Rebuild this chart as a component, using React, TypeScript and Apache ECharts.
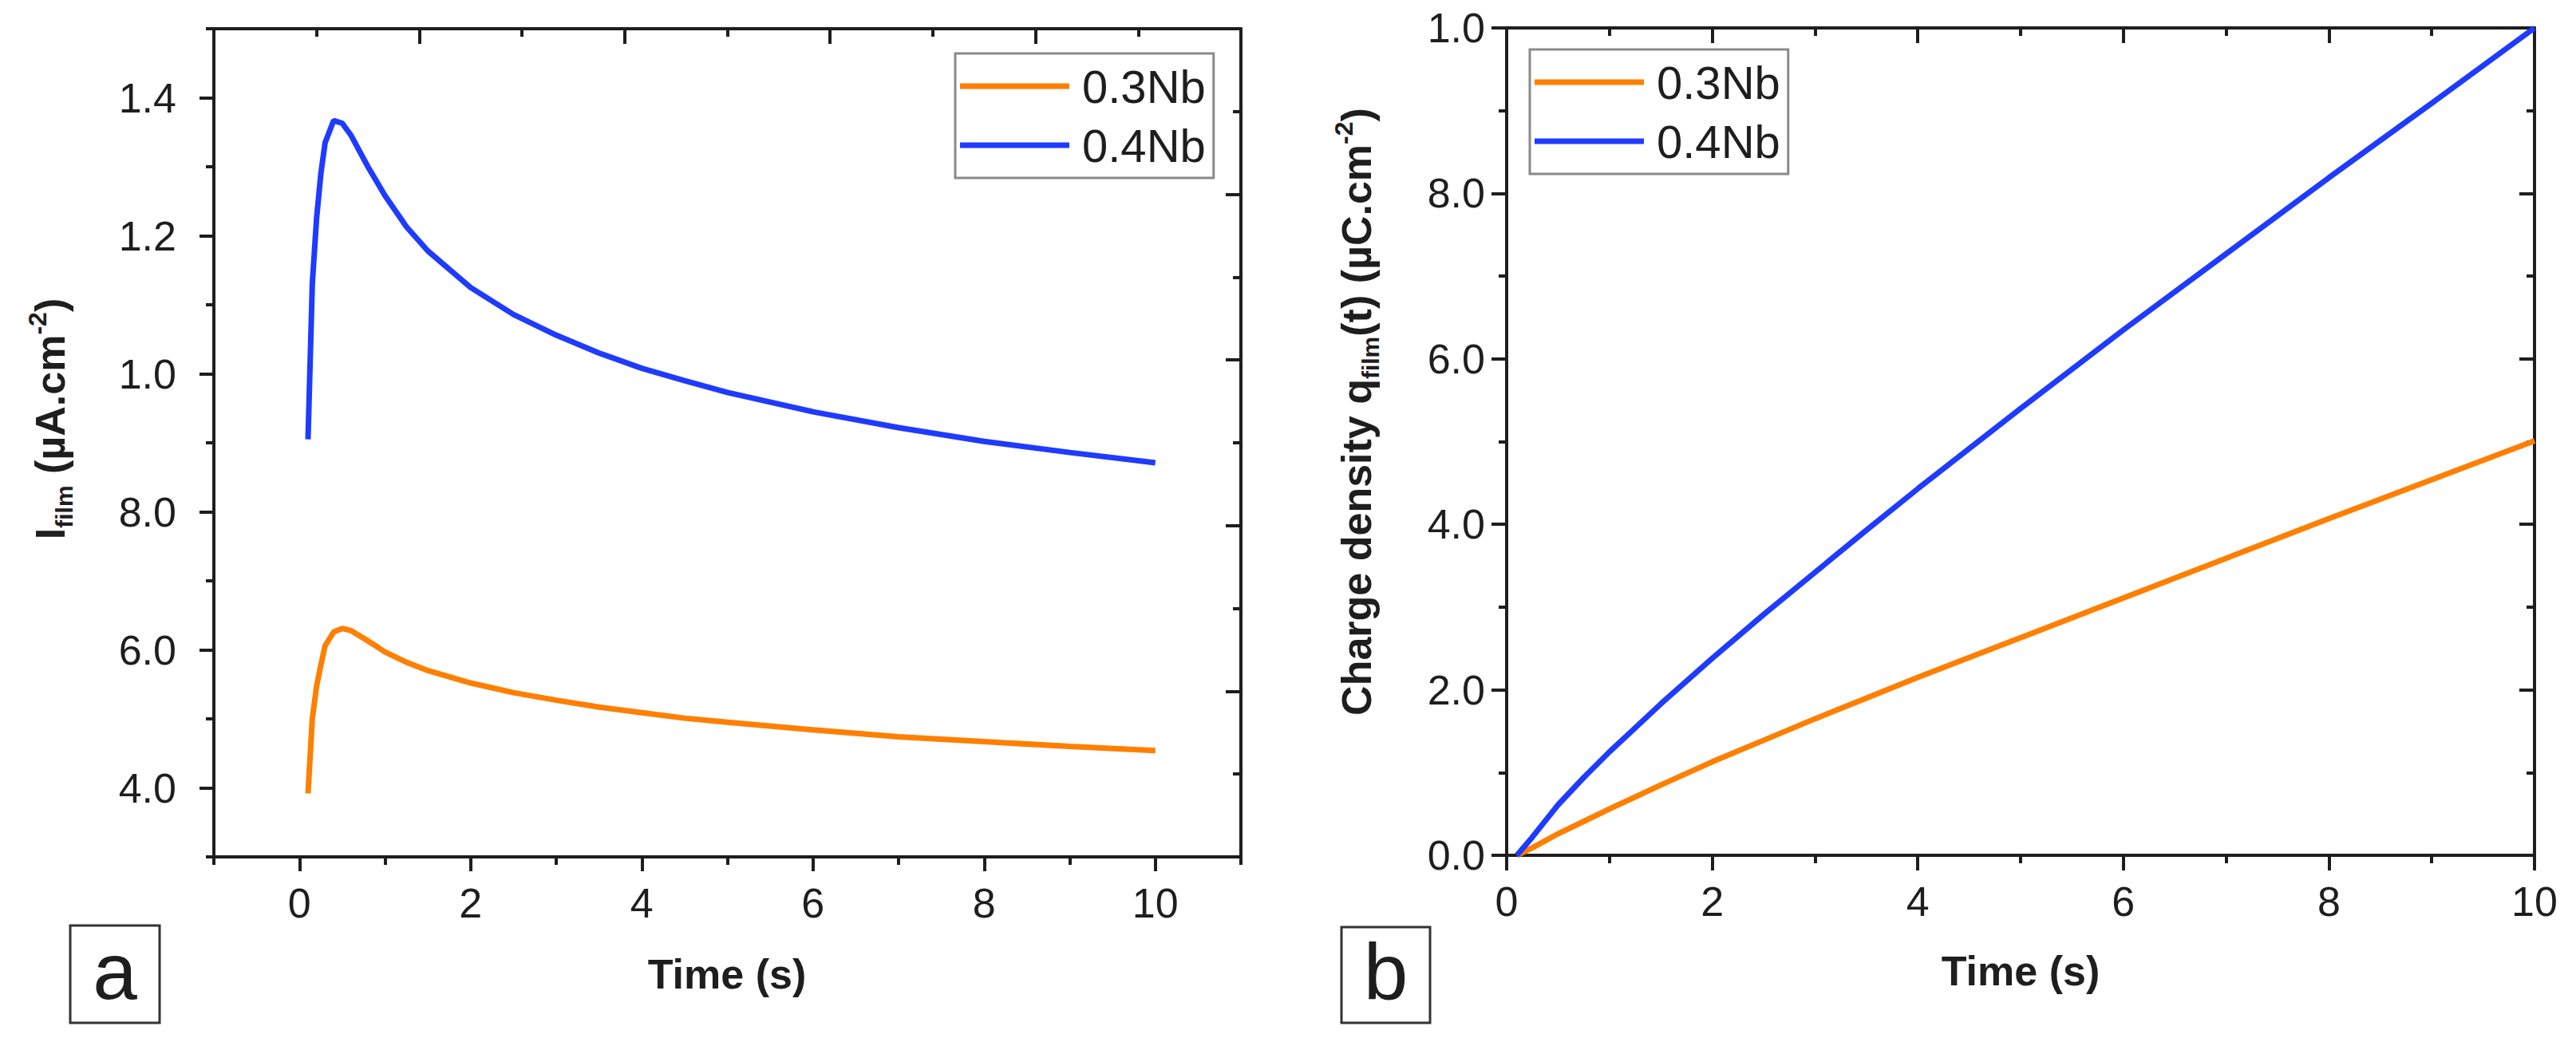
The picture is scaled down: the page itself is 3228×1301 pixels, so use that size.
import { useEffect, useRef } from 'react';
import * as echarts from 'echarts';

// panel a: film current vs time
const timeA = [0.1, 0.15, 0.2, 0.25, 0.3, 0.4, 0.5, 0.6, 0.8, 1.0, 1.25, 1.5, 2.0, 2.5, 3.0, 3.5, 4.0, 4.5, 5.0, 6.0, 7.0, 8.0, 9.0, 10.0];
const currentNb03 = [0.392, 0.5, 0.547, 0.578, 0.606, 0.626, 0.631, 0.628, 0.613, 0.597, 0.582, 0.57, 0.552, 0.538, 0.527, 0.517, 0.509, 0.501, 0.495, 0.484, 0.474, 0.467, 0.46, 0.454];
const currentNb04 = [0.905, 1.13, 1.225, 1.29, 1.335, 1.367, 1.363, 1.346, 1.3, 1.258, 1.213, 1.178, 1.125, 1.086, 1.056, 1.03, 1.008, 0.99, 0.973, 0.945, 0.922, 0.902, 0.886, 0.871];

// panel b: charge density vs time
const timeB = [0.1, 0.25, 0.5, 0.75, 1.0, 1.5, 2.0, 2.5, 3.0, 3.5, 4.0, 5.0, 6.0, 7.0, 8.0, 9.0, 10.0];
const chargeNb03 = [0, 0.09, 0.26, 0.41, 0.56, 0.85, 1.13, 1.39, 1.65, 1.9, 2.15, 2.63, 3.11, 3.59, 4.07, 4.54, 5.01];
const chargeNb04 = [0, 0.22, 0.61, 0.94, 1.25, 1.83, 2.38, 2.91, 3.42, 3.93, 4.43, 5.4, 6.35, 7.27, 8.19, 9.09, 10.0];

// ticks and labels as printed on the figure
const xTicksA = [0, 2, 4, 6, 8, 10];
const xMinorA = [-1, 1, 3, 5, 7, 9, 11];
const yTicksA = [0.4, 0.6, 0.8, 1.0, 1.2, 1.4];
const yLabelsA = ['4.0', '6.0', '8.0', '1.0', '1.2', '1.4'];
const yMinorA = [0.3, 0.5, 0.7, 0.9, 1.1, 1.3, 1.5];
const yTicksB = [0, 2, 4, 6, 8, 10];
const yLabelsB = ['0.0', '2.0', '4.0', '6.0', '8.0', '1.0'];

const ORANGE = '#FF7F00';
const BLUE = '#1F3BFF';
const INK = '#1e1e1e';
const FONT = '"Liberation Sans", Arial, Helvetica, sans-serif';

const pairs = (xs: number[], ys: number[]) => xs.map((x, i) => [x, ys[i]]);

const lookup = (ticks: number[], labels: string[]) => (v: number) => {
  const i = ticks.findIndex(t => Math.abs(t - v) < 1e-6);
  return i >= 0 ? labels[i] : '';
};

const line = { color: INK, width: 4 };

const tickLabel = (margin: number) => ({
  show: true,
  fontSize: 52,
  fontFamily: FONT,
  color: INK,
  margin,
});

// top/right frame axes with inward ticks, no labels
function frameAxis(gridIndex: number, position: string) {
  return {
    type: 'value',
    gridIndex,
    position,
    min: 0,
    max: 10,
    interval: 2,
    axisLine: { show: true, onZero: false, lineStyle: line },
    axisTick: { show: true, inside: true, length: 19, lineStyle: line },
    minorTick: { show: true, splitNumber: 2, length: 10, lineStyle: line },
    axisLabel: { show: false },
    splitLine: { show: false },
  };
}

function series(name: string, color: string, xi: number, yi: number, data: number[][]) {
  return {
    name,
    type: 'line',
    xAxisIndex: xi,
    yAxisIndex: yi,
    data,
    showSymbol: false,
    symbol: 'none',
    smooth: false,
    lineStyle: { width: 7, color },
    itemStyle: { color },
  };
}

function legend(left: number, top: number) {
  return {
    orient: 'vertical',
    left,
    top,
    data: ['0.3Nb', '0.4Nb'],
    icon: 'rect',
    itemWidth: 137,
    itemHeight: 7,
    itemGap: 16,
    padding: [12, 10, 12, 6],
    borderColor: '#8a8a8a',
    borderWidth: 3,
    textStyle: { fontSize: 58, lineHeight: 58, fontFamily: FONT, color: INK, padding: [0, 0, 0, 11] },
  };
}

const richTitle = {
  m: { fontSize: 52, fontWeight: 'bold', fontFamily: FONT, fill: INK, lineHeight: 64 },
  s: { fontSize: 30, fontWeight: 'bold', fontFamily: FONT, fill: INK, verticalAlign: 'bottom' },
  p: { fontSize: 32, fontWeight: 'bold', fontFamily: FONT, fill: INK, verticalAlign: 'top' },
};

function panelTag(x: number, y: number, w: number, h: number, letter: string) {
  return [
    {
      type: 'rect',
      shape: { x, y, width: w, height: h },
      style: { fill: '#fff', stroke: '#333', lineWidth: 3 },
    },
    {
      type: 'text',
      x: x + w / 2,
      y: y + h / 2 - 4,
      style: { text: letter, fontSize: 100, fontFamily: FONT, fill: INK, align: 'center', verticalAlign: 'middle' },
    },
  ];
}

export default function App() {
  const chartRef = useRef<HTMLDivElement>(null);

  useEffect(() => {
    if (!chartRef.current) return;
    const chart = echarts.init(chartRef.current, null, { renderer: 'svg' });

    const option: any = {
      animation: false,
      backgroundColor: '#fff',
      grid: [
        { left: 268, top: 36, width: 1287, height: 1038 },
        { left: 268, top: 36, width: 1287, height: 1038 },
        { left: 1888, top: 35, width: 1288, height: 1037 },
      ],
      xAxis: [
        {
          type: 'value',
          gridIndex: 0,
          position: 'bottom',
          min: -1,
          max: 11,
          axisLine: { show: true, onZero: false, lineStyle: line },
          axisTick: { show: true, length: 18, customValues: xTicksA, lineStyle: line },
          axisLabel: { ...tickLabel(32), customValues: xTicksA },
          splitLine: { show: false },
        },
        frameAxis(0, 'top'),
        {
          type: 'value',
          gridIndex: 1,
          position: 'bottom',
          min: -1,
          max: 11,
          axisLine: { show: false, onZero: false },
          axisTick: { show: true, length: 10, customValues: xMinorA, lineStyle: line },
          axisLabel: { show: false },
          splitLine: { show: false },
        },
        {
          type: 'value',
          gridIndex: 2,
          position: 'bottom',
          min: 0,
          max: 10,
          interval: 2,
          axisLine: { show: true, onZero: false, lineStyle: line },
          axisTick: { show: true, length: 19, lineStyle: line },
          minorTick: { show: true, splitNumber: 2, length: 10, lineStyle: line },
          axisLabel: tickLabel(32),
          splitLine: { show: false },
        },
        frameAxis(2, 'top'),
      ],
      yAxis: [
        {
          type: 'value',
          gridIndex: 0,
          position: 'left',
          min: 0.3,
          max: 1.5,
          axisLine: { show: true, onZero: false, lineStyle: line },
          axisTick: { show: true, length: 18, customValues: yTicksA, lineStyle: line },
          axisLabel: { ...tickLabel(47), customValues: yTicksA, formatter: lookup(yTicksA, yLabelsA) },
          splitLine: { show: false },
        },
        frameAxis(0, 'right'),
        {
          type: 'value',
          gridIndex: 1,
          position: 'left',
          min: 0.3,
          max: 1.5,
          axisLine: { show: false, onZero: false },
          axisTick: { show: true, length: 10, customValues: yMinorA, lineStyle: line },
          axisLabel: { show: false },
          splitLine: { show: false },
        },
        {
          type: 'value',
          gridIndex: 2,
          position: 'left',
          min: 0,
          max: 10,
          interval: 2,
          axisLine: { show: true, onZero: false, lineStyle: line },
          axisTick: { show: true, length: 19, lineStyle: line },
          minorTick: { show: true, splitNumber: 2, length: 10, lineStyle: line },
          axisLabel: { ...tickLabel(27), formatter: lookup(yTicksB, yLabelsB) },
          splitLine: { show: false },
        },
        frameAxis(2, 'right'),
      ],
      legend: [legend(1197, 67), legend(1917, 62)],
      series: [
        series('0.3Nb', ORANGE, 0, 0, pairs(timeA, currentNb03)),
        series('0.4Nb', BLUE, 0, 0, pairs(timeA, currentNb04)),
        series('0.3Nb', ORANGE, 3, 3, pairs(timeB, chargeNb03)),
        series('0.4Nb', BLUE, 3, 3, pairs(timeB, chargeNb04)),
      ],
      graphic: [
        {
          type: 'text',
          x: 63,
          y: 525,
          rotation: Math.PI / 2,
          style: {
            text: '{m|I}{s|film}{m| (µA.cm}{p|-2}{m|)}',
            rich: richTitle,
            align: 'center',
            verticalAlign: 'middle',
          },
        },
        {
          type: 'text',
          x: 1700,
          y: 516,
          rotation: Math.PI / 2,
          style: {
            text: '{m|Charge density q}{s|film}{m|(t) (µC.cm}{p|-2}{m|)}',
            rich: richTitle,
            align: 'center',
            verticalAlign: 'middle',
          },
        },
        {
          type: 'text',
          x: 911,
          y: 1221,
          style: { text: 'Time (s)', fontSize: 52, fontWeight: 'bold', fontFamily: FONT, fill: INK, align: 'center', verticalAlign: 'middle' },
        },
        {
          type: 'text',
          x: 2532,
          y: 1217,
          style: { text: 'Time (s)', fontSize: 52, fontWeight: 'bold', fontFamily: FONT, fill: INK, align: 'center', verticalAlign: 'middle' },
        },
        ...panelTag(88, 1160, 112, 122, 'a'),
        ...panelTag(1681, 1162, 111, 120, 'b'),
      ],
    };

    chart.setOption(option);

    return () => {
      chart.dispose();
    };
  }, []);

  return (
    <div
      ref={chartRef}
      style={{ position: 'absolute', left: 0, top: 0, width: '3228px', height: '1301px' }}
    />
  );
}
